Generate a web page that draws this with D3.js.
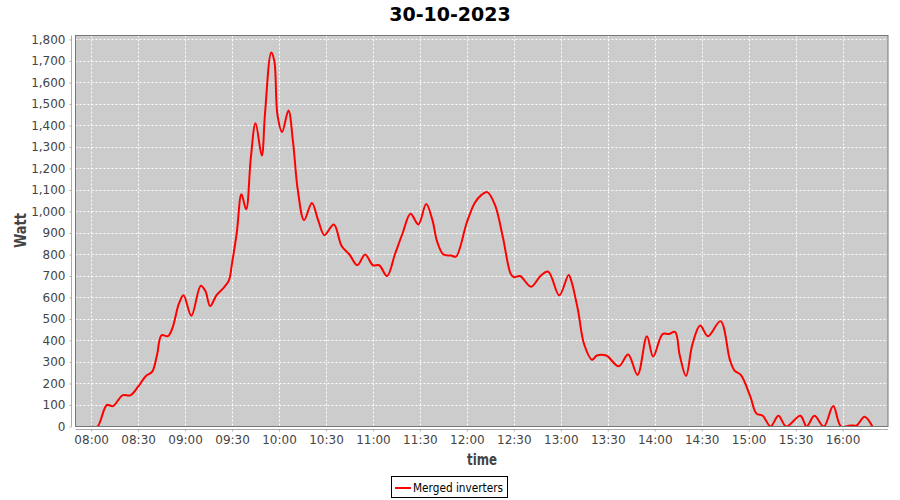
<!DOCTYPE html>
<html>
<head>
<meta charset="utf-8">
<script src="https://cdn.jsdelivr.net/npm/d3@7"></script>
<style>
  body { margin: 0; background: #fff; }
  svg { display: block; }
  text { font-family: "DejaVu Sans", sans-serif; }
</style>
</head>
<body>
<svg id="chart" width="900" height="500"></svg>
<script>
const title = "30-10-2023";
const seriesName = "Merged inverters";
const xLabel = "time";
const yLabel = "Watt";
const yTicks = [0,100,200,300,400,500,600,700,800,900,1000,1100,1200,1300,1400,1500,1600,1700,1800];
const xTickLabels = ["08:00","08:30","09:00","09:30","10:00","10:30","11:00","11:30","12:00","12:30","13:00","13:30","14:00","14:30","15:00","15:30","16:00"];
const times = ["08:00","08:04","08:10","08:14","08:20","08:25","08:30","08:35","08:39","08:42","08:45","08:49","08:52","08:56","08:59","09:04","09:10","09:13","09:16","09:20","09:24","09:28","09:30","09:33","09:36","09:39","09:42","09:45","09:49","09:51","09:55","09:57","09:59","10:02","10:06","10:09","10:12","10:16","10:21","10:25","10:29","10:35","10:40","10:45","10:50","10:55","11:00","11:04","11:09","11:14","11:19","11:24","11:29","11:34","11:38","11:41","11:45","11:50","11:53","12:00","12:05","12:09","12:13","12:18","12:23","12:28","12:30","12:34","12:41","12:47","12:52","12:59","13:05","13:07","13:11","13:15","13:20","13:23","13:29","13:37","13:43","13:49","13:55","13:59","14:05","14:09","14:13","14:16","14:20","14:24","14:29","14:34","14:42","14:48","14:51","14:55","15:01","15:05","15:09","15:14","15:19","15:24","15:33","15:37","15:42","15:48","15:54","15:59","16:05","16:09","16:14","16:19"];
const watts = [0,0,100,95,145,145,185,235,255,330,425,420,460,570,610,515,655,630,560,610,640,680,760,900,1080,1010,1250,1410,1260,1450,1740,1700,1450,1370,1470,1320,1100,960,1040,960,890,940,840,800,750,800,750,750,700,800,900,990,940,1035,960,860,800,795,790,950,1040,1075,1090,1030,880,710,695,700,650,700,720,610,705,670,540,380,310,330,330,280,335,240,420,325,430,430,440,330,235,380,470,420,490,310,260,240,140,60,50,0,50,0,50,0,50,0,95,0,5,5,45,0];

const parseT = d3.timeParse("%H:%M");
const data = times.map((t, i) => ({ t: parseT(t), v: watts[i] }));

const svg = d3.select("#chart");
const L = 75.5, R = 888, T = 35.5, B = 426.5;

const x = d3.scaleTime()
  .domain([d3.timeMinute.offset(parseT("08:00"), -9.4), d3.timeMinute.offset(parseT("08:00"), 509.2)])
  .range([L, R]);
const y = d3.scaleLinear().domain([0, 1818.6]).range([B, T]);

// title
svg.append("text").attr("x", 450).attr("y", 21).attr("text-anchor", "middle")
  .attr("font-size", 19).attr("font-weight", "bold").attr("fill", "#000").text(title);

// plot background
svg.append("rect").attr("x", L).attr("y", T).attr("width", R - L).attr("height", B - T)
  .attr("fill", "#cccccc");

// gridlines
const xTickDates = xTickLabels.map(parseT);
const grid = svg.append("g");
grid.selectAll(".gx").data(xTickDates).enter().append("line")
  .attr("x1", d => Math.round(x(d)) + 0.5).attr("x2", d => Math.round(x(d)) + 0.5)
  .attr("y1", T).attr("y2", B)
  .attr("stroke", "#ffffff").attr("stroke-width", 1).attr("stroke-dasharray", "2,2");
grid.selectAll(".gy").data(yTicks).enter().append("line")
  .attr("y1", d => Math.round(y(d)) + 0.5).attr("y2", d => Math.round(y(d)) + 0.5)
  .attr("x1", L).attr("x2", R)
  .attr("stroke", "#ffffff").attr("stroke-width", 1).attr("stroke-dasharray", "2,2");

// clip
svg.append("clipPath").attr("id", "clip").append("rect")
  .attr("x", L).attr("y", T).attr("width", R - L).attr("height", B - T);

const line = d3.line().x(d => x(d.t)).y(d => y(d.v)).curve(d3.curveCatmullRom.alpha(0.5));
svg.append("path").datum(data).attr("clip-path", "url(#clip)")
  .attr("d", line).attr("fill", "none").attr("stroke", "#ff0000").attr("stroke-width", 2);

// plot border
svg.append("rect").attr("x", L).attr("y", T).attr("width", R - L).attr("height", B - T)
  .attr("fill", "none").attr("stroke", "#777777").attr("stroke-width", 1);

// y axis
const yAxis = d3.axisLeft(y).tickValues(yTicks).tickSize(2).tickPadding(4)
  .tickFormat(d3.format(","));
const gy = svg.append("g").attr("transform", "translate(71.5,0)").call(yAxis);
gy.select(".domain").attr("stroke", "#aaaaaa").attr("d", `M0,${T}V${B}`);
gy.selectAll(".tick line").attr("stroke", "#aaaaaa");
gy.selectAll(".tick text").attr("font-size", 12).attr("fill", "#444444")
  .attr("font-family", "DejaVu Sans, sans-serif");

// x axis
const xAxis = d3.axisBottom(x).tickValues(xTickDates).tickSize(2).tickPadding(4)
  .tickFormat(d3.timeFormat("%H:%M"));
const gx = svg.append("g").attr("transform", "translate(0,429.5)").call(xAxis);
gx.select(".domain").attr("stroke", "#aaaaaa").attr("d", `M${L},0H${R}`);
gx.selectAll(".tick line").attr("stroke", "#aaaaaa");
gx.selectAll(".tick text").attr("font-size", 12).attr("fill", "#444444")
  .attr("font-family", "DejaVu Sans, sans-serif");

// axis labels
svg.append("text").attr("x", 467).attr("y", 465).attr("text-anchor", "start")
  .attr("font-size", 15).attr("font-weight", "bold").attr("fill", "#444444")
  .attr("textLength", 30).attr("lengthAdjust", "spacingAndGlyphs").text(xLabel);
svg.append("text").attr("transform", "translate(26,248) rotate(-90)").attr("text-anchor", "start")
  .attr("font-size", 15).attr("font-weight", "bold").attr("fill", "#444444")
  .attr("textLength", 35).attr("lengthAdjust", "spacingAndGlyphs").text(yLabel);

// legend
const lg = svg.append("g");
lg.append("rect").attr("x", 391.5).attr("y", 476.5).attr("width", 116).attr("height", 21)
  .attr("fill", "#ffffff").attr("stroke", "#000000").attr("stroke-width", 1);
lg.append("line").attr("x1", 395).attr("x2", 411).attr("y1", 488).attr("y2", 488)
  .attr("stroke", "#ff0000").attr("stroke-width", 2);
lg.append("text").attr("x", 413).attr("y", 492).attr("font-size", 12).attr("fill", "#000")
  .attr("textLength", 90).attr("lengthAdjust", "spacingAndGlyphs")
  .text(seriesName);
</script>
</body>
</html>
